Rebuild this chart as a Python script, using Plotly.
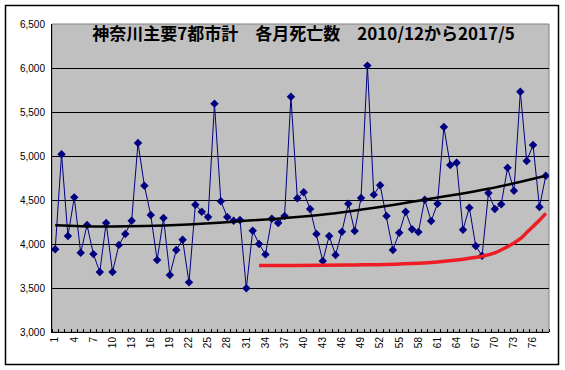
import plotly.graph_objects as go

# ---- data ----
months = list(range(1, 79))
deaths = [3940, 5020, 4090, 4530, 3900, 4215, 3885, 3682, 4240, 3682,
          3990, 4114, 4265, 5148, 4663, 4329, 3818, 4295, 3648, 3932,
          4049, 3564, 4447, 4367, 4307, 5595, 4485, 4307, 4265, 4273,
          3496, 4151, 4000, 3882, 4288, 4239, 4318, 5674, 4520, 4587,
          4398, 4114, 3807, 4091, 3875, 4140, 4458, 4148, 4522, 6027,
          4561, 4667, 4318, 3932, 4129, 4367, 4167, 4136, 4504, 4261,
          4458, 5330, 4898, 4924, 4163, 4413, 3977, 3867, 4579, 4398,
          4451, 4867, 4606, 5731, 4943, 5125, 4420, 4776]

trend_x = [1, 5, 10, 15, 21, 29, 39, 45, 50, 55, 59, 64, 69, 73, 78]
trend_y = [4212, 4203, 4200, 4205, 4220, 4254, 4308, 4350, 4400, 4455, 4504, 4562, 4628, 4690, 4776]

red_x = [33, 38, 43, 48, 53, 58, 61, 64, 66, 68, 70, 72, 73, 74, 75, 76, 77, 78]
red_y = [3757, 3757, 3758, 3762, 3767, 3780, 3795, 3818, 3838, 3860, 3900, 3970, 4011, 4060, 4130, 4200, 4270, 4348]

x_tick_vals = list(range(1, 79, 3))
x_tick_text = [str(v) for v in x_tick_vals]
y_tick_vals = [3000, 3500, 4000, 4500, 5000, 5500, 6000, 6500]
y_tick_text = ["3,000", "3,500", "4,000", "4,500", "5,000", "5,500", "6,000", "6,500"]

title_text = "神奈川主要7都市計　各月死亡数　2010/12から2017/5"

# ---- figure ----
fig = go.Figure()

fig.add_trace(go.Scatter(
    x=months, y=deaths, mode="lines+markers",
    line=dict(color="#000080", width=1),
    marker=dict(symbol="diamond", size=6.5, color="#000080"),
    hoverinfo="x+y", showlegend=False,
))
fig.add_trace(go.Scatter(
    x=trend_x, y=trend_y, mode="lines",
    line=dict(color="#000000", width=2.5, shape="spline"),
    showlegend=False, hoverinfo="skip",
))
fig.add_trace(go.Scatter(
    x=red_x, y=red_y, mode="lines",
    line=dict(color="#EE1C25", width=3.5, shape="spline"),
    showlegend=False, hoverinfo="skip",
))

L, R, T, B = 52, 16, 24, 38
W, H = 565, 370
pw, ph = W - L - R, H - T - B

def px_x(p):
    return (p - L) / pw

def px_y(p):
    return (H - B - p) / ph

fig.update_layout(
    width=W, height=H,
    margin=dict(l=L, r=R, t=T, b=B, autoexpand=False),
    paper_bgcolor="white",
    plot_bgcolor="#C0C0C0",
    showlegend=False,
    title=dict(
        text=title_text,
        x=px_x(303.5), xref="paper", xanchor="center",
        y=1 - 34.5 / H, yref="container", yanchor="middle",
        font=dict(family="Noto Sans CJK JP", size=17, color="black", weight="bold"),
    ),
    shapes=[
        dict(type="rect", xref="paper", yref="paper",
             x0=px_x(5.5), x1=px_x(558.5), y0=px_y(364.5), y1=px_y(5.5),
             line=dict(color="black", width=1.5), layer="below"),
        dict(type="rect", xref="paper", yref="paper",
             x0=0, x1=1, y0=0, y1=1,
             line=dict(color="#808080", width=1), layer="below"),
    ],
)

fig.update_xaxes(
    range=[0.5, 78.5], automargin=False,
    tickmode="array", tickvals=x_tick_vals, ticktext=x_tick_text,
    tickangle=-90,
    ticks="",
    showgrid=False, zeroline=False,
    showline=True, linecolor="black", linewidth=1,
    tickfont=dict(family="Liberation Sans", size=10, color="black"),
    minor=dict(ticks="inside", tick0=0.5, dtick=1, ticklen=3,
               tickcolor="black", tickwidth=1, showgrid=False),
)
fig.update_yaxes(
    range=[3000, 6500], automargin=False,
    tickmode="array", tickvals=y_tick_vals, ticktext=y_tick_text,
    ticks="outside", ticklen=4, tickcolor="rgba(0,0,0,0)",
    showgrid=True, gridcolor="black", gridwidth=1,
    zeroline=False,
    showline=True, linecolor="black", linewidth=1,
    tickfont=dict(family="Liberation Sans", size=10, color="black"),
)

fig.write_html(
    "out.html",
    config={"displayModeBar": False},
    post_script="document.body.style.margin='0';document.body.style.overflow='hidden';",
)
